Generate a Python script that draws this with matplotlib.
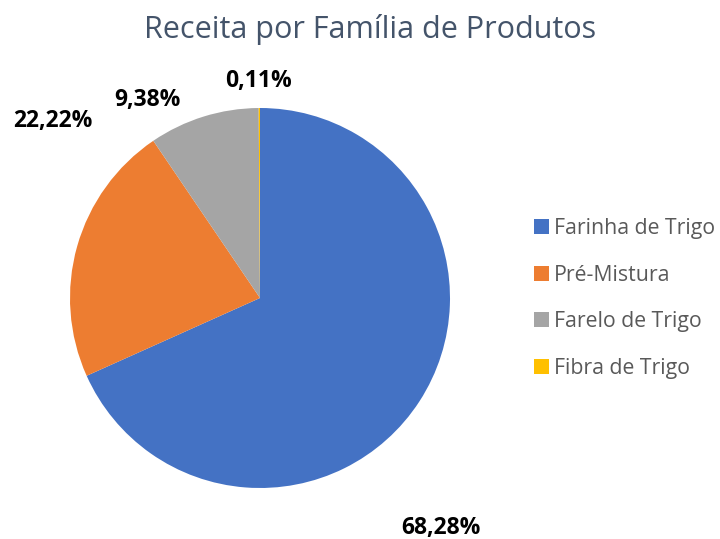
import matplotlib.pyplot as plt

plt.rcParams['font.family'] = ['Open Sans', 'DejaVu Sans']

# dados
familias = ['Farinha de Trigo', 'Pré-Mistura', 'Farelo de Trigo', 'Fibra de Trigo']
percentuais = [68.28, 22.22, 9.38, 0.11]
cores = ['#4472C4', '#ED7D31', '#A5A5A5', '#FFC000']

# posicao dos rotulos (em raios, relativo ao centro)
pos_rotulos = [(0.95, -1.21), (-1.09, 0.93), (-0.59, 1.04), (-0.01, 1.14)]

fig = plt.figure(figsize=(7.2, 5.39), dpi=100)
r_px = 190
cx, cy = 260, 298
ax = fig.add_axes([(cx - r_px) / 720, (539 - cy - r_px) / 539, 2 * r_px / 720, 2 * r_px / 539])

wedges, _ = ax.pie(percentuais, colors=cores, startangle=90, counterclock=False,
                   radius=1, wedgeprops=dict(linewidth=0))
ax.set_xlim(-1, 1)
ax.set_ylim(-1, 1)
ax.set_aspect('equal')
ax.axis('off')

for p, (x, y) in zip(percentuais, pos_rotulos):
    txt = f'{p:.2f}%'.replace('.', ',')
    ax.text(x, y, txt, ha='center', va='center', fontsize=16.5, fontweight='bold',
            color='black', clip_on=False)

fig.text(0.514, 0.945, 'Receita por Família de Produtos', ha='center', va='center',
         fontsize=22, color='#44546A')

fig.legend(wedges, familias, loc='center left', bbox_to_anchor=(0.715, 0.446),
           frameon=False, fontsize=15.3, labelcolor='#595959',
           handlelength=0.7, handleheight=0.7, handletextpad=0.25, labelspacing=1.2)

fig.savefig('out.png', dpi=100, facecolor='white')
